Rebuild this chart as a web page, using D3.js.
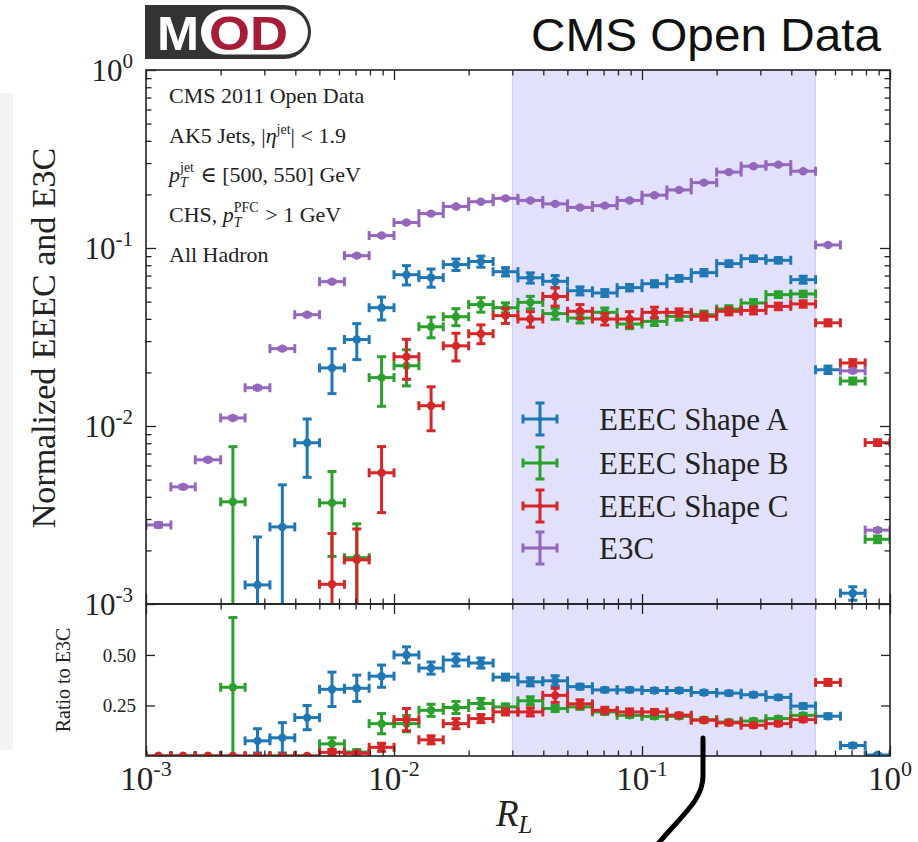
<!DOCTYPE html>
<html>
<head>
<meta charset="utf-8">
<script src="https://cdn.jsdelivr.net/npm/d3@7"></script>
<style>
  html, body { margin: 0; padding: 0; background: #ffffff; }
  text { white-space: pre; }
</style>
</head>
<body>
<svg id="chart" width="918" height="842"></svg>
<script>
// ---------------- DATA ----------------
const RL_edges = [0.001, 0.00126, 0.00158, 0.002, 0.00251, 0.00316, 0.00398, 0.00501, 0.00631, 0.00794,
  0.01, 0.0126, 0.0158, 0.02, 0.0251, 0.0316, 0.0398, 0.0501, 0.0631, 0.0794,
  0.1, 0.126, 0.158, 0.2, 0.251, 0.316, 0.398, 0.501, 0.631, 0.794, 1.0];

const e3c = [0.00278, 0.00455, 0.00646, 0.0111, 0.0164, 0.0272, 0.0422, 0.0647, 0.0906, 0.1175,
  0.139, 0.156, 0.171, 0.182, 0.19, 0.185, 0.177, 0.169, 0.173, 0.185,
  0.198, 0.212, 0.233, 0.267, 0.288, 0.294, 0.27, 0.104, 0.0204, 0.0026];
const e3cErr = [0.00008, 0.0001, 0.00012, 0.0002, 0.0003, 0.0004, 0.0006, 0.0008, 0.001, 0.0012,
  0.0014, 0.0015, 0.0016, 0.0016, 0.0016, 0.0016, 0.0016, 0.0015, 0.0015, 0.0016,
  0.0016, 0.0017, 0.0018, 0.002, 0.002, 0.002, 0.002, 0.001, 0.0003, 0.00005];

const shapeA = [null, null, null, null, 0.00128, 0.00271, 0.00805, 0.0212, 0.0306, 0.0462,
  0.0708, 0.0682, 0.0807, 0.084, 0.0736, 0.068, 0.065, 0.0575, 0.0559, 0.0599,
  0.063, 0.0675, 0.0727, 0.0817, 0.0871, 0.0853, 0.0664, 0.0207, 0.00115, null];
const shapeAErr = [0, 0, 0, 0, 0.0011, 0.00196, 0.0029, 0.006, 0.007, 0.0068,
  0.0088, 0.008, 0.006, 0.006, 0.004, 0.0045, 0.005, 0.003, 0.0025, 0.0025,
  0.0025, 0.0025, 0.003, 0.003, 0.003, 0.003, 0.003, 0.001, 0.0001, 0];

const shapeB = [null, null, null, 0.00375, null, null, null, 0.0037, 0.00182, 0.0187,
  0.0218, 0.0361, 0.0411, 0.0481, 0.0462, 0.0495, 0.0428, 0.0404, 0.0435, 0.0374,
  0.0387, 0.0413, 0.0422, 0.0454, 0.0491, 0.0547, 0.0552, null, 0.0179, 0.00231];
const shapeBErr = [0, 0, 0, 0.0039, 0, 0, 0, 0.00185, 0.001, 0.0058,
  0.005, 0.0048, 0.0045, 0.0045, 0.003, 0.004, 0.003, 0.0025, 0.0025, 0.0022,
  0.002, 0.002, 0.002, 0.002, 0.0022, 0.002, 0.002, 0, 0.0007, 0.0001];

const shapeC = [null, null, null, null, null, null, null, 0.00129, 0.00177, 0.00546,
  0.0245, 0.013, 0.0282, 0.033, 0.0417, 0.0399, 0.0534, 0.0441, 0.0399, 0.0399,
  0.0435, 0.0435, 0.0413, 0.0441, 0.0446, 0.047, 0.0485, 0.038, 0.0226, 0.00807];
const shapeCErr = [0, 0, 0, 0, 0, 0, 0, 0.0012, 0.00087, 0.0022,
  0.0062, 0.0036, 0.005, 0.004, 0.004, 0.004, 0.0062, 0.004, 0.003, 0.004,
  0.003, 0.002, 0.002, 0.002, 0.002, 0.002, 0.002, 0.0015, 0.001, 0.0003];

const ratioA = [0, 0, 0, 0, 0.075, 0.09, 0.19, 0.33, 0.335, 0.395,
  0.5, 0.435, 0.475, 0.46, 0.39, 0.367, 0.372, 0.343, 0.327, 0.327,
  0.324, 0.324, 0.314, 0.311, 0.303, 0.29, 0.247, 0.197, 0.052, 0.005];
const ratioAErr = [0, 0, 0, 0, 0.06, 0.075, 0.06, 0.085, 0.065, 0.055,
  0.04, 0.03, 0.03, 0.025, 0.015, 0.02, 0.025, 0.012, 0.01, 0.01,
  0.01, 0.01, 0.01, 0.01, 0.01, 0.01, 0.012, 0.012, 0.01, 0.005];

const ratioB = [0, 0, 0, 0.34, 0, 0, 0, 0.06, 0.02, 0.16,
  0.16, 0.226, 0.24, 0.26, 0.243, 0.273, 0.235, 0.243, 0.218, 0.201,
  0.196, 0.196, 0.18, 0.168, 0.173, 0.185, 0.201, null, 0.88, 0.89];
const ratioBErr = [0, 0, 0, 0.345, 0, 0, 0, 0.03, 0.012, 0.05,
  0.04, 0.03, 0.03, 0.025, 0.015, 0.02, 0.015, 0.012, 0.012, 0.01,
  0.01, 0.01, 0.01, 0.01, 0.01, 0.01, 0.01, 0, 0.04, 0.05];

const ratioC = [0, 0, 0, 0, 0, 0, 0, 0.018, 0.013, 0.043,
  0.18, 0.08, 0.16, 0.185, 0.218, 0.218, 0.3, 0.258, 0.226, 0.218,
  0.218, 0.202, 0.177, 0.164, 0.152, 0.16, 0.18, 0.364, 1.1, 3.1];
const ratioCErr = [0, 0, 0, 0, 0, 0, 0, 0.015, 0.01, 0.02,
  0.055, 0.02, 0.025, 0.02, 0.015, 0.02, 0.035, 0.02, 0.015, 0.015,
  0.012, 0.01, 0.01, 0.01, 0.01, 0.01, 0.01, 0.015, 0.05, 0.15];

const seriesNames = ["EEEC Shape A", "EEEC Shape B", "EEEC Shape C", "E3C"];
const bandRange = [0.03, 0.5];
const mainTickValues = [0.001, 0.01, 0.1, 1];
const mainTickExps = ["-3", "-2", "-1", "0"];
const ratioTickValues = [0.25, 0.5];
const ratioTickLabels = ["0.25", "0.50"];
const infoLines = ["CMS 2011 Open Data", "AK5 Jets, |η^jet| < 1.9", "p_T^jet ∈ [500, 550] GeV", "CHS, p_T^PFC > 1 GeV", "All Hadron"];

// ---------------- STYLE / LAYOUT ----------------
const colors = ["#1f77b4", "#2ca02c", "#d62728", "#9467bd"];
const SERIF = "'Liberation Serif', 'DejaVu Serif', serif";
const SANS = "'Liberation Sans', Arial, sans-serif";
const X0 = 146, X1 = 890, YT = 70, YM = 604, YB = 756;

const svg = d3.select("#chart");
svg.append("rect").attr("width", 918).attr("height", 842).attr("fill", "#fff");
svg.append("rect").attr("x", 0).attr("y", 93).attr("width", 13).attr("height", 657).attr("fill", "#f3f3f3");

const x = d3.scaleLog().domain([1e-3, 1]).range([X0, X1]);
const yMain = d3.scaleLog().domain([1e-3, 1]).range([YM, YT]);
const yRatio = d3.scaleLinear().domain([0, 0.752]).range([YB, YM]);

const defs = svg.append("defs");
defs.append("clipPath").attr("id", "clipMain").append("rect")
  .attr("x", X0).attr("y", YT).attr("width", X1 - X0).attr("height", YM - YT);
defs.append("clipPath").attr("id", "clipRatio").append("rect")
  .attr("x", X0).attr("y", YM).attr("width", X1 - X0).attr("height", YB - YM);

// shaded band
[[YT, YM], [YM, YB]].forEach(([a, b]) => {
  svg.append("rect").attr("x", x(bandRange[0])).attr("y", a)
    .attr("width", x(bandRange[1]) - x(bandRange[0])).attr("height", b - a)
    .attr("fill", "#e1e1fb").attr("stroke", "#cacaf3").attr("stroke-width", 1);
});

// error-bar series
const LW = 3, CAP = 4.5, R = 4.2;
function drawSeries(g, vals, errs, yScale, color, isLog) {
  const bottom = yScale.range()[0];
  vals.forEach((v, i) => {
    if (v === null || v === undefined) return;
    const xl = x(RL_edges[i]), xr = x(RL_edges[i + 1]);
    const xc = x(Math.sqrt(RL_edges[i] * RL_edges[i + 1]));
    const yc = yScale(v);
    const e = errs[i] || 0;
    const yTop = yScale(v + e);
    const yBot = (isLog && v - e <= 0) ? bottom + 40 : yScale(v - e);
    const s = g.append("g").attr("stroke", color).attr("stroke-width", LW).attr("fill", color);
    s.append("line").attr("x1", xl).attr("x2", xr).attr("y1", yc).attr("y2", yc);
    s.append("line").attr("x1", xl).attr("x2", xl).attr("y1", yc - CAP).attr("y2", yc + CAP);
    s.append("line").attr("x1", xr).attr("x2", xr).attr("y1", yc - CAP).attr("y2", yc + CAP);
    s.append("line").attr("x1", xc).attr("x2", xc).attr("y1", yTop).attr("y2", yBot);
    s.append("line").attr("x1", xc - CAP).attr("x2", xc + CAP).attr("y1", yTop).attr("y2", yTop);
    s.append("line").attr("x1", xc - CAP).attr("x2", xc + CAP).attr("y1", yBot).attr("y2", yBot);
    s.append("circle").attr("cx", xc).attr("cy", yc).attr("r", R).attr("stroke", "none");
  });
}

const gMain = svg.append("g").attr("clip-path", "url(#clipMain)");
drawSeries(gMain, shapeA, shapeAErr, yMain, colors[0], true);
drawSeries(gMain, shapeB, shapeBErr, yMain, colors[1], true);
drawSeries(gMain, shapeC, shapeCErr, yMain, colors[2], true);
drawSeries(gMain, e3c, e3cErr, yMain, colors[3], true);

const gRatio = svg.append("g").attr("clip-path", "url(#clipRatio)");
drawSeries(gRatio, ratioA, ratioAErr, yRatio, colors[0], false);
drawSeries(gRatio, ratioB, ratioBErr, yRatio, colors[1], false);
drawSeries(gRatio, ratioC, ratioCErr, yRatio, colors[2], false);

// ---------------- AXES / TICKS ----------------
const minorX = [];
[-3, -2, -1].forEach(d => { for (let k = 2; k <= 9; k++) minorX.push(k * Math.pow(10, d)); });
const minorY = minorX.slice();

function ticks(axisGen, tf, vals, size) {
  const g = svg.append("g").attr("transform", tf)
    .call(axisGen.tickValues(vals).tickSize(size).tickFormat(""));
  g.select(".domain").remove();
  g.selectAll("line").attr("stroke", "#222").attr("stroke-width", 1.3);
}
// main panel
ticks(d3.axisRight(yMain), `translate(${X0},0)`, mainTickValues, 10);
ticks(d3.axisRight(yMain), `translate(${X0},0)`, minorY, 5.5);
ticks(d3.axisLeft(yMain), `translate(${X1},0)`, mainTickValues, 10);
ticks(d3.axisLeft(yMain), `translate(${X1},0)`, minorY, 5.5);
ticks(d3.axisBottom(x), `translate(0,${YT})`, mainTickValues, 10);
ticks(d3.axisBottom(x), `translate(0,${YT})`, minorX, 5.5);
ticks(d3.axisTop(x), `translate(0,${YM})`, mainTickValues, 10);
ticks(d3.axisTop(x), `translate(0,${YM})`, minorX, 5.5);
// ratio panel
ticks(d3.axisBottom(x), `translate(0,${YM})`, mainTickValues, 10);
ticks(d3.axisBottom(x), `translate(0,${YM})`, minorX, 5.5);
ticks(d3.axisTop(x), `translate(0,${YB})`, mainTickValues, 10);
ticks(d3.axisTop(x), `translate(0,${YB})`, minorX, 5.5);
ticks(d3.axisRight(yRatio), `translate(${X0},0)`, ratioTickValues, 9);
ticks(d3.axisLeft(yRatio), `translate(${X1},0)`, ratioTickValues, 9);

// frames
svg.append("rect").attr("x", X0).attr("y", YT).attr("width", X1 - X0).attr("height", YM - YT)
  .attr("fill", "none").attr("stroke", "#222").attr("stroke-width", 1.6);
svg.append("rect").attr("x", X0).attr("y", YM).attr("width", X1 - X0).attr("height", YB - YM)
  .attr("fill", "none").attr("stroke", "#222").attr("stroke-width", 1.6);

// tick labels
mainTickValues.forEach((v, i) => {
  const t = svg.append("text").attr("x", 133).attr("y", yMain(v) + 11)
    .attr("text-anchor", "end").attr("font-family", SERIF).attr("font-size", 31).attr("fill", "#222");
  t.append("tspan").text("10");
  t.append("tspan").attr("font-size", 21).attr("dy", -13).text(mainTickExps[i]);
});
mainTickValues.forEach((v, i) => {
  const t = svg.append("text").attr("x", x(v)).attr("y", 790)
    .attr("text-anchor", "middle").attr("font-family", SERIF).attr("font-size", 33).attr("fill", "#222");
  t.append("tspan").text("10");
  t.append("tspan").attr("font-size", 22).attr("dy", -14).text(mainTickExps[i]);
});
ratioTickValues.forEach((v, i) => {
  svg.append("text").attr("x", 136).attr("y", yRatio(v) + 7).attr("text-anchor", "end")
    .attr("font-family", SERIF).attr("font-size", 19).attr("fill", "#222").text(ratioTickLabels[i]);
});

// axis titles
svg.append("text").attr("transform", "translate(55,338) rotate(-90)").attr("text-anchor", "middle")
  .attr("font-family", SERIF).attr("font-size", 34).attr("fill", "#222").text("Normalized EEEC and E3C");
svg.append("text").attr("transform", "translate(70,680) rotate(-90)").attr("text-anchor", "middle")
  .attr("font-family", SERIF).attr("font-size", 20).attr("fill", "#222").text("Ratio to E3C");
const xl = svg.append("text").attr("x", 496).attr("y", 826).attr("font-family", SERIF)
  .attr("font-size", 37).attr("font-style", "italic").attr("fill", "#222");
xl.append("tspan").text("R");
xl.append("tspan").attr("font-size", 25).attr("dy", 7).text("L");

// ---------------- INFO TEXT ----------------
function rich(x0, y0, parts, baseSize) {
  let cx = x0, sx = null, sw = 0;
  parts.forEach(p => {
    const px = sx !== null ? sx : cx;
    const t = svg.append("text").attr("x", px).attr("y", y0 + (p.dy || 0))
      .attr("font-family", SERIF).attr("font-size", p.size || baseSize)
      .attr("font-style", p.it ? "italic" : "normal").attr("fill", "#222").text(p.t);
    const w = t.node().getComputedTextLength();
    if (p.stack) { sx = px; sw = w; }
    else if (sx !== null) { cx = sx + Math.max(sw, w) + 1; sx = null; }
    else cx = px + w;
  });
}
const IX = 169, IY0 = 103, IDY = 39.7, IS = 22;
rich(IX, IY0, [{ t: infoLines[0] }], IS);
rich(IX, IY0 + IDY, [{ t: "AK5 Jets, |" }, { t: "η", it: true }, { t: "jet", size: 14, dy: -9 }, { t: "| < 1.9" }], IS);
rich(IX, IY0 + 2 * IDY, [{ t: "p", it: true }, { t: "jet", size: 14, dy: -10, stack: true }, { t: "T", it: true, size: 14, dy: 5 }, { t: " ∈ [500, 550] GeV" }], IS);
rich(IX, IY0 + 3 * IDY, [{ t: "CHS, " }, { t: "p", it: true }, { t: "PFC", size: 14, dy: -10, stack: true }, { t: "T", it: true, size: 14, dy: 5 }, { t: " > 1 GeV" }], IS);
rich(IX, IY0 + 4 * IDY, [{ t: infoLines[4] }], IS);

// ---------------- LEGEND ----------------
const legY = [419, 463, 506, 548];
seriesNames.forEach((name, i) => {
  const cx = 540, cy = legY[i];
  const s = svg.append("g").attr("stroke", colors[i]).attr("stroke-width", LW).attr("fill", colors[i]);
  s.append("line").attr("x1", cx - 17).attr("x2", cx + 17).attr("y1", cy).attr("y2", cy);
  s.append("line").attr("x1", cx - 17).attr("x2", cx - 17).attr("y1", cy - CAP).attr("y2", cy + CAP);
  s.append("line").attr("x1", cx + 17).attr("x2", cx + 17).attr("y1", cy - CAP).attr("y2", cy + CAP);
  s.append("line").attr("x1", cx).attr("x2", cx).attr("y1", cy - 16).attr("y2", cy + 16);
  s.append("line").attr("x1", cx - CAP).attr("x2", cx + CAP).attr("y1", cy - 16).attr("y2", cy - 16);
  s.append("line").attr("x1", cx - CAP).attr("x2", cx + CAP).attr("y1", cy + 16).attr("y2", cy + 16);
  s.append("circle").attr("cx", cx).attr("cy", cy).attr("r", 2.5).attr("stroke", "none");
  svg.append("text").attr("x", 599).attr("y", cy + 11).attr("font-family", SERIF)
    .attr("font-size", 31).attr("fill", "#222").text(name);
});

// ---------------- HEADER ----------------
const logo = svg.append("g");
logo.append("path").attr("d", "M145,5 H284 A27,27 0 0 1 284,59 H145 Z").attr("fill", "#333333");
logo.append("rect").attr("x", 201).attr("y", 9.5).attr("width", 107).attr("height", 45).attr("rx", 22.5).attr("fill", "#ffffff");
logo.append("text").attr("x", 157).attr("y", 50).attr("font-family", SANS).attr("font-size", 48)
  .attr("font-weight", "bold").attr("fill", "#ffffff").attr("textLength", 42).attr("lengthAdjust", "spacingAndGlyphs").text("M");
logo.append("text").attr("x", 209).attr("y", 50).attr("font-family", SANS).attr("font-size", 48)
  .attr("font-weight", "bold").attr("fill", "#a51d36").attr("textLength", 79).attr("lengthAdjust", "spacingAndGlyphs").text("OD");

svg.append("text").attr("x", 531).attr("y", 51).attr("font-family", SANS).attr("font-size", 46)
  .attr("fill", "#111").attr("textLength", 350).attr("lengthAdjust", "spacingAndGlyphs").text("CMS Open Data");

// hand-drawn pointer stroke
svg.append("path").attr("d", "M703,738 L703,776 C703,800 682,815 657,845")
  .attr("fill", "none").attr("stroke", "#000").attr("stroke-width", 5).attr("stroke-linecap", "round");
</script>
</body>
</html>
